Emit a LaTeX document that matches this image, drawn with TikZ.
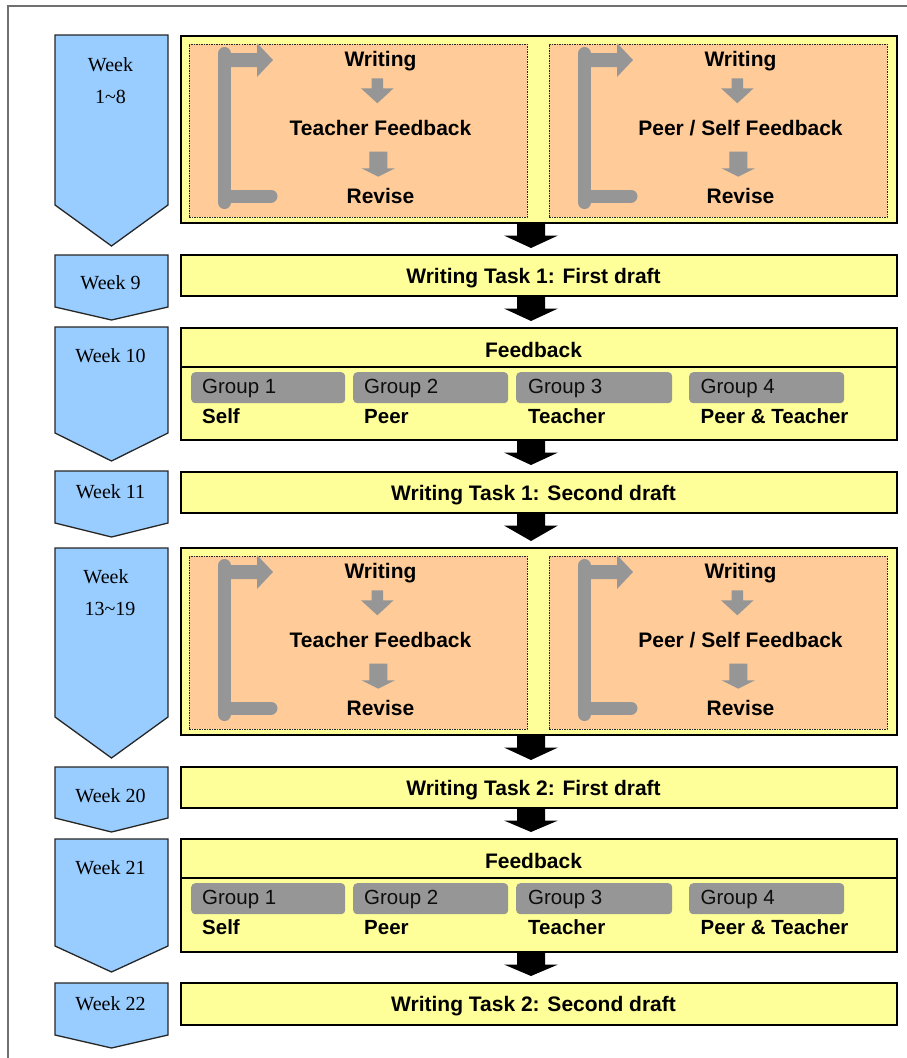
\documentclass[tikz,border=0pt]{standalone}
\usepackage{fontspec}
\setmainfont{Liberation Serif}
\newfontfamily\arialf{Liberation Sans}
\usetikzlibrary{calc}

\definecolor{weekblue}{HTML}{99CCFF}
\definecolor{taskyellow}{HTML}{FFFF99}
\definecolor{cycleorange}{HTML}{FFCC99}
\definecolor{flowgray}{HTML}{969696}
\definecolor{framegray}{HTML}{707070}

\tikzset{
  weekshape/.style={fill=weekblue, draw=black!85, line width=1.3pt, line join=miter},
  weeklabel/.style={font=\fontsize{20}{24}\selectfont, anchor=base, inner sep=0pt},
  taskbox/.style={fill=taskyellow, draw=black, line width=2pt, anchor=north west,
    inner sep=0pt, outer sep=0pt, minimum width=716pt},
  cyclebox/.style={fill=cycleorange, draw=black!85, line width=0.8pt,
    dash pattern=on 1.5pt off 1pt, anchor=north west, inner sep=0pt, outer sep=0pt},
  tasktext/.style={font=\arialf\bfseries\fontsize{21}{25}\selectfont, anchor=base, inner sep=0pt},
  grouptag/.style={fill=flowgray, rounded corners=4pt, anchor=north west, inner sep=0pt,
    minimum height=31pt},
  grouptext/.style={font=\arialf\fontsize{20.5}{24}\selectfont, text=black!95, anchor=base west, inner sep=0pt},
  roletext/.style={font=\arialf\bfseries\fontsize{20.5}{24}\selectfont, anchor=base west, inner sep=0pt},
  flowarrow/.style={fill=black},
  loopline/.style={draw=flowgray, line width=13pt, line cap=round},
}

% blue week marker: top edge, shoulder, tip
\newcommand\weekmarker[3]{%
  \draw[weekshape] (55,#1) -- (168,#1) -- (168,#2) -- (111.5,#3) -- (55,#2) -- cycle;}

% black arrow between two stacked boxes
\newcommand\stepdown[2]{%
  \fill[flowarrow] ($(#1.south -| ax)+(-14,0)$) -- ++(28,0) -- ++(0,12.5) -- ++(13,0)
    -- ($(#2.north -| ax)+(0,-7)$) -- ($(#1.south -| ax)+(-27,12.5)$) -- ++(13,0) -- cycle;}

% small gray arrow: x, shaft top, head start, tip, shaft half width, head half width
\newcommand\smallarrow[6]{%
  \fill[flowgray] (#1-#5,#2) -- (#1+#5,#2) -- (#1+#5,#3) -- (#1+#6,#3) -- (#1,#4)
    -- (#1-#6,#3) -- (#1-#5,#3) -- cycle;}

% one writing / feedback / revise cycle (drawn for the left slot, shifted by scope)
\newcommand\cycleslot[2]{%
  \node[cyclebox, minimum width=338pt, minimum height=173pt] (#1box) at (189,44) {};
  \draw[loopline] (224.5,53.5) -- (224.5,202.5);
  \draw[loopline] (224.5,196) -- (271,196);
  \fill[flowgray] (218,53) -- (257,53) -- (257,43) -- (273,60) -- (257,77) -- (257,67)
    -- (218,67) -- cycle;
  \node[tasktext] (#1w) at (380.5,66) {Writing};
  \node[tasktext] (#1f) at (380.5,135) {#2};
  \node[tasktext] (#1r) at (380.5,203) {Revise};
  \smallarrow{377.3}{78.3}{88.3}{103.3}{5.8}{16.3}
  \smallarrow{378.3}{151.7}{168.3}{176.7}{9}{16.7}}

% feedback box content for the four groups
\newcommand\feedbackrows[1]{%
  \draw[line width=1.5pt] (#1.west |- 0,367) -- (#1.east |- 0,367);
  \node[tasktext] (#1t) at (533.5,357) {Feedback};
  \node[grouptag, minimum width=154pt] (#1g1) at (191,372) {};
  \node[grouptag, minimum width=155pt] (#1g2) at (353,372) {};
  \node[grouptag, minimum width=156pt] (#1g3) at (516,372) {};
  \node[grouptag, minimum width=155pt] (#1g4) at (689,372) {};
  \node[grouptext] (#1n1) at (202,393) {Group 1};
  \node[grouptext] (#1n2) at (364,393) {Group 2};
  \node[grouptext] (#1n3) at (528,393) {Group 3};
  \node[grouptext] (#1n4) at (700.5,393) {Group 4};
  \node[roletext] (#1r1) at (202,423) {Self};
  \node[roletext] (#1r2) at (364,423) {Peer};
  \node[roletext] (#1r3) at (528,423) {Teacher};
  \node[roletext] (#1r4) at (700.5,423) {Peer \& Teacher};}

\begin{document}
\begin{tikzpicture}[x=1pt, y=-1pt]
  \useasboundingbox (0,0) rectangle (907,1058);
  \coordinate (ax) at (531,0);

  % page frame
  \draw[framegray, line width=1.5pt] (8,1060) -- (8,6) -- (909,6);

  % week markers
  \weekmarker{35}{205}{246}
  \weekmarker{255}{307}{320}
  \weekmarker{327}{433}{461}
  \weekmarker{471}{523}{537}
  \weekmarker{548}{717}{758}
  \weekmarker{767}{818}{832}
  \weekmarker{839}{946}{972}
  \weekmarker{983}{1035}{1048}

  \node[weeklabel] (wk1a) at (110.5,71) {Week};
  \node[weeklabel] (wk1b) at (110.5,103) {1\textasciitilde 8};
  \node[weeklabel] (wk9) at (110.5,289) {Week 9};
  \node[weeklabel] (wk10) at (110.5,362) {Week 10};
  \node[weeklabel] (wk11) at (110.5,498) {Week 11};
  \node[weeklabel] (wk13a) at (106,583) {Week};
  \node[weeklabel] (wk13b) at (110,615) {13\textasciitilde 19};
  \node[weeklabel] (wk20) at (110.5,802) {Week 20};
  \node[weeklabel] (wk21) at (110.5,874) {Week 21};
  \node[weeklabel] (wk22) at (110.5,1010) {Week 22};

  % task boxes
  \node[taskbox, minimum height=187pt] (b1) at (181,36) {};
  \node[taskbox, minimum height=41pt] (b9) at (181,255) {};
  \node[taskbox, minimum height=112pt] (b10) at (181,328) {};
  \node[taskbox, minimum height=41pt] (b11) at (181,472) {};
  \node[taskbox, minimum height=187pt] (b13) at (181,548) {};
  \node[taskbox, minimum height=41pt] (b20) at (181,767) {};
  \node[taskbox, minimum height=113pt] (b21) at (181,839) {};
  \node[taskbox, minimum height=42pt] (b22) at (181,983) {};

  % weeks 1-8
  \cycleslot{ta}{Teacher Feedback}
  \begin{scope}[shift={(360,0)}]
    \cycleslot{pa}{Peer / Self Feedback}
  \end{scope}

  \node[tasktext] (t9) at (533.5,283) {Writing Task 1: First draft};
  \feedbackrows{b10}
  \node[tasktext] (t11) at (533.5,500) {Writing Task 1: Second draft};

  % weeks 13-19
  \begin{scope}[shift={(0,512)}]
    \cycleslot{tb}{Teacher Feedback}
  \end{scope}
  \begin{scope}[shift={(360,512)}]
    \cycleslot{pb}{Peer / Self Feedback}
  \end{scope}

  \node[tasktext] (t20) at (533.5,795) {Writing Task 2: First draft};
  \begin{scope}[shift={(0,511)}]
    \feedbackrows{b21}
  \end{scope}
  \node[tasktext] (t22) at (533.5,1011) {Writing Task 2: Second draft};

  % flow between stages
  \stepdown{b1}{b9}
  \stepdown{b9}{b10}
  \stepdown{b10}{b11}
  \stepdown{b11}{b13}
  \stepdown{b13}{b20}
  \stepdown{b20}{b21}
  \stepdown{b21}{b22}
\end{tikzpicture}
\end{document}
